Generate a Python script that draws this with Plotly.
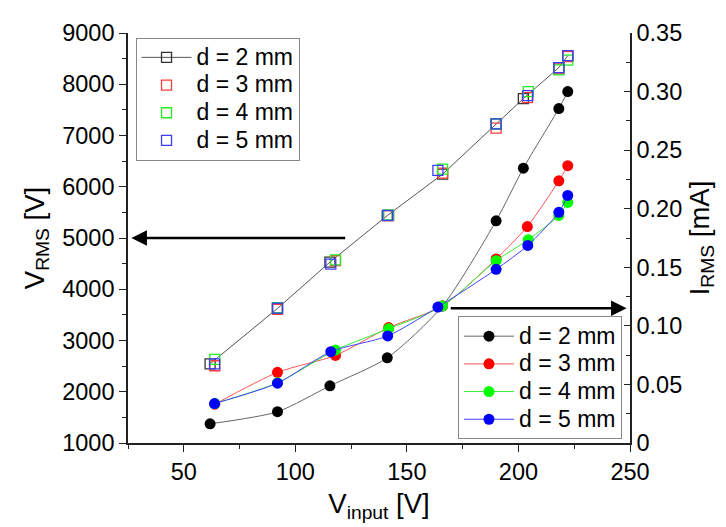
import plotly.graph_objects as go

# ---- data ----
labels = ["d = 2 mm", "d = 3 mm", "d = 4 mm", "d = 5 mm"]
x_d2 = [61.8, 92.0, 115.5, 141.2, 166.0, 190.0, 202.2, 218.1, 222.1]
x_d3 = [63.9, 92.0, 118.0, 141.8, 166.0, 190.0, 204.0, 218.1, 222.1]
x_d4 = [63.9, 92.0, 118.0, 141.8, 166.0, 190.0, 204.4, 218.1, 222.1]
x_d5 = [63.8, 92.0, 115.9, 141.4, 163.9, 190.0, 204.2, 218.1, 222.1]

v_d2 = [2545, 3626, 4530, 5437, 6245, 7225, 7720, 8324, 8557]
v_d3 = [2507, 3610, 4560, 5437, 6265, 7142, 7740, 8300, 8540]
v_d4 = [2632, 3640, 4575, 5450, 6343, 7225, 7856, 8280, 8472]
v_d5 = [2545, 3630, 4492, 5440, 6318, 7225, 7778, 8324, 8557]

i_d2 = [0.0164, 0.0267, 0.0488, 0.0727, 0.117, 0.1897, 0.2346, 0.2855, 0.300]
i_d3 = [0.0331, 0.0603, 0.0748, 0.0985, 0.117, 0.1571, 0.1848, 0.2238, 0.2367]
i_d4 = [0.0337, 0.0514, 0.0793, 0.0975, 0.117, 0.1556, 0.1735, 0.1943, 0.2054]
i_d5 = [0.0337, 0.0511, 0.0780, 0.0914, 0.116, 0.1483, 0.1687, 0.1969, 0.2113]

x_ticks = [50, 100, 150, 200, 250]
v_ticks = [1000, 2000, 3000, 4000, 5000, 6000, 7000, 8000, 9000]
i_ticks = [0, 0.05, 0.10, 0.15, 0.20, 0.25, 0.30, 0.35]
i_ticktext = ["0", "0.05", "0.10", "0.15", "0.20", "0.25", "0.30", "0.35"]

xs = [x_d2, x_d3, x_d4, x_d5]
vs = [v_d2, v_d3, v_d4, v_d5]
cs = [i_d2, i_d3, i_d4, i_d5]

sq_colors = ["#333333", "#FF3b3b", "#22EE22", "#3b3bFF"]
dot_colors = ["#000000", "#FF0000", "#00FF00", "#0000FF"]
line_colors = ["#666666", "#FF5555", "#33EE33", "#4444FF"]

FONT = "Liberation Sans, Arial, sans-serif"


def big(s):
    return '<span style="font-size:23px">' + s + '</span>'


fig = go.Figure()

# squares: V_RMS (left axis)
for k in range(4):
    fig.add_trace(go.Scatter(
        x=xs[k], y=vs[k], name=big(labels[k]),
        mode="lines+markers" if k == 0 else "markers",
        line=dict(color="#555555", width=1),
        marker=dict(symbol="square-open", size=10, color=sq_colors[k],
                    line=dict(width=1.3, color=sq_colors[k])),
        xaxis="x", yaxis="y", legend="legend",
    ))

# circles: I_RMS (right axis)
for k in range(4):
    fig.add_trace(go.Scatter(
        x=xs[k], y=cs[k], name=big(labels[k]),
        mode="lines+markers",
        line=dict(color=line_colors[k], width=1, shape="spline", smoothing=0.7),
        marker=dict(symbol="circle", size=11, color=dot_colors[k]),
        xaxis="x", yaxis="y2", legend="legend2",
    ))

axis_line = dict(showline=True, linecolor="#222222", linewidth=1.6, automargin=False)
tickfont = dict(family=FONT, size=23.5, color="#000000")
titlefont = dict(family=FONT, size=27.5, color="#000000")

fig.update_layout(
    width=726, height=527,
    margin=dict(l=120, r=104, t=25, b=92),
    paper_bgcolor="white", plot_bgcolor="white",
    font=dict(family=FONT, color="#000000"),
    showlegend=True,
    xaxis=dict(
        range=[25, 250], tickvals=x_ticks, ticks="outside", ticklen=7, tickwidth=1.4,
        tickcolor="#222222",
        minor=dict(dtick=25, tick0=0, ticks="outside", ticklen=4, tickcolor="#222222"),
        showgrid=False, zeroline=False, tickfont=tickfont,
        title=dict(text="V<sub>input</sub> [V]", font=titlefont, standoff=10),
        **axis_line,
    ),
    xaxis2=dict(
        range=[25, 250], overlaying="x", side="top", anchor="y",
        tickvals=x_ticks, ticks="inside", ticklen=6, tickwidth=1.4, tickcolor="#222222",
        minor=dict(dtick=25, tick0=0, ticks="inside", ticklen=4, tickcolor="#222222"),
        showticklabels=False, showgrid=False, zeroline=False, **axis_line,
    ),
    yaxis=dict(
        range=[1000, 9000], tickvals=v_ticks, ticks="outside", ticklen=7, tickwidth=1.4,
        tickcolor="#222222",
        minor=dict(dtick=500, tick0=0, ticks="outside", ticklen=4, tickcolor="#222222"),
        showgrid=False, zeroline=False, tickfont=tickfont,
        title=dict(text="V<sub>RMS</sub> [V]", font=titlefont, standoff=10),
        **axis_line,
    ),
    yaxis2=dict(
        range=[0, 0.35], overlaying="y", side="right", anchor="x",
        tickvals=i_ticks, ticktext=i_ticktext, ticks="inside", ticklen=6, tickwidth=1.4,
        tickcolor="#222222",
        minor=dict(dtick=0.025, tick0=0, ticks="inside", ticklen=4, tickcolor="#222222"),
        showgrid=False, zeroline=False, tickfont=tickfont,
        title=dict(text="I<sub>RMS</sub> [mA]", font=titlefont, standoff=8),
        **axis_line,
    ),
    legend=dict(
        x=0.015, y=0.989, xanchor="left", yanchor="top",
        bordercolor="#888888", borderwidth=1, bgcolor="white",
        font=dict(family=FONT, size=19), itemwidth=50, tracegroupgap=0,
    ),
    legend2=dict(
        x=0.984, y=0.009, xanchor="right", yanchor="bottom",
        bordercolor="#888888", borderwidth=1, bgcolor="white",
        font=dict(family=FONT, size=19), itemwidth=50, tracegroupgap=0,
    ),
)

# arrows pointing to the respective axes
fig.add_annotation(x=26.5, y=5000, ax=123, ay=5000, xref="x", yref="y",
                   axref="x", ayref="y", showarrow=True, arrowhead=2,
                   arrowsize=1.2, arrowwidth=2.6, arrowcolor="#000000", text="")
fig.add_annotation(x=248.5, y=0.115, ax=169, ay=0.115, xref="x", yref="y2",
                   axref="x", ayref="y2", showarrow=True, arrowhead=2,
                   arrowsize=1.2, arrowwidth=2.6, arrowcolor="#000000", text="")

fig.write_html("out.html")
